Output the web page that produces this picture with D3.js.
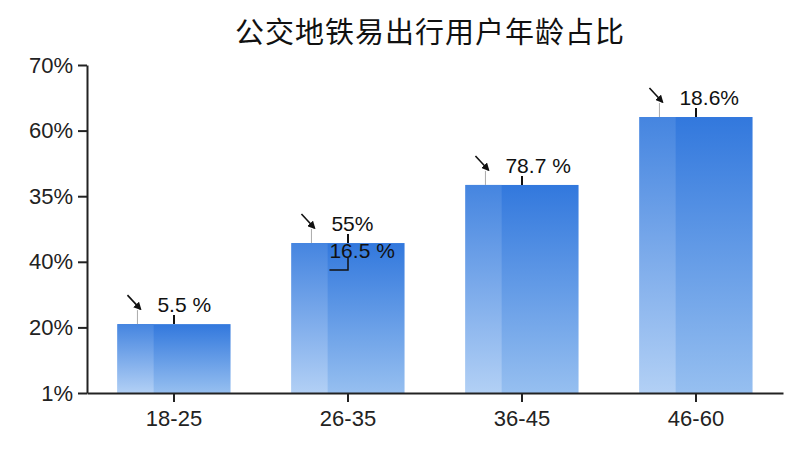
<!DOCTYPE html>
<html><head><meta charset="utf-8">
<script src="https://cdn.jsdelivr.net/npm/d3@7"></script>
<style>
html,body{margin:0;padding:0;background:#fff;}
svg{display:block;}
</style></head>
<body>
<svg id="chart" width="800" height="450"></svg>
<script>
const title = "公交地铁易出行用户年龄占比";
const categories = ["18-25", "26-35", "36-45", "46-60"];
const values = [14.7, 32.0, 44.4, 58.9];
const valueLabels = ["5.5 %", "55%", "78.7 %", "18.6%"];
const yTickValues = [0, 14, 28, 42, 56, 70];
const yTickLabels = ["1%", "20%", "40%", "35%", "60%", "70%"];
const extraCategories = ["26-35"];
const extraLabels = ["16.5 %"];

const svg = d3.select("#chart");
const latin = "'Liberation Sans', Arial, sans-serif";

const x = d3.scaleBand().domain(categories).range([87, 783]).paddingInner(0.35).paddingOuter(0.175);
const y = d3.scaleLinear().domain([0, 70]).range([393, 65]);

const defs = svg.append("defs");
const gMain = defs.append("linearGradient").attr("id", "gMain").attr("x1", 0).attr("y1", 0).attr("x2", 0).attr("y2", 1);
gMain.append("stop").attr("offset", "0%").attr("stop-color", "#3278dd");
gMain.append("stop").attr("offset", "100%").attr("stop-color", "#96bff0");
const gLeft = defs.append("linearGradient").attr("id", "gLeft").attr("x1", 0).attr("y1", 0).attr("x2", 0).attr("y2", 1);
gLeft.append("stop").attr("offset", "0%").attr("stop-color", "#4585e0");
gLeft.append("stop").attr("offset", "100%").attr("stop-color", "#b2d0f5");
defs.append("marker").attr("id", "arr").attr("viewBox", "0 0 10 10").attr("refX", 8).attr("refY", 5)
  .attr("markerWidth", 5).attr("markerHeight", 5).attr("orient", "auto")
  .append("path").attr("d", "M0,0 L10,5 L0,10 Z").attr("fill", "#111");

// title
svg.append("text").attr("x", 430).attr("y", 43).attr("text-anchor", "middle")
  .attr("font-family", "'Noto Sans CJK SC', sans-serif").attr("font-size", 29).attr("font-weight", 400)
  .attr("letter-spacing", 1).attr("fill", "#111").text(title);

// bars
const bars = svg.append("g");
const data = categories.map((c, i) => ({c, v: values[i], label: valueLabels[i]}));
bars.selectAll("rect.main").data(data).join("rect").attr("class", "main")
  .attr("x", d => x(d.c)).attr("y", d => y(d.v))
  .attr("width", x.bandwidth()).attr("height", d => y(0) - y(d.v)).attr("fill", "url(#gMain)");
bars.selectAll("rect.left").data(data).join("rect").attr("class", "left")
  .attr("x", d => x(d.c)).attr("y", d => y(d.v))
  .attr("width", x.bandwidth() * 0.32).attr("height", d => y(0) - y(d.v)).attr("fill", "url(#gLeft)");

// axes
const yAxis = d3.axisLeft(y).tickValues(yTickValues).tickFormat((d, i) => yTickLabels[i]).tickSize(9).tickSizeOuter(0);
const gy = svg.append("g").attr("transform", "translate(87,0)").call(yAxis);
gy.select(".domain").attr("stroke", "#222").attr("stroke-width", 2);
gy.selectAll(".tick line").attr("stroke", "#222").attr("stroke-width", 2);
gy.selectAll(".tick text").attr("font-family", latin).attr("font-size", 22).attr("fill", "#222").attr("x", -14);

const xAxis = d3.axisBottom(x).tickSize(9).tickSizeOuter(0);
const gx = svg.append("g").attr("transform", "translate(0,393)").call(xAxis);
gx.select(".domain").attr("stroke", "#222").attr("stroke-width", 2);
gx.selectAll(".tick line").attr("stroke", "#222").attr("stroke-width", 2);
gx.selectAll(".tick text").attr("font-family", latin).attr("font-size", 22).attr("fill", "#222").attr("y", 17);

// annotations
const ann = svg.append("g");
data.forEach(d => {
  const L = x(d.c), T = y(d.v), C = L + x.bandwidth() / 2;
  ann.append("line").attr("x1", L + 10).attr("y1", T - 29).attr("x2", L + 23).attr("y2", T - 15)
    .attr("stroke", "#111").attr("stroke-width", 1.6).attr("marker-end", "url(#arr)");
  ann.append("line").attr("x1", L + 20).attr("y1", T - 14).attr("x2", L + 20).attr("y2", T)
    .attr("stroke", "#aaa").attr("stroke-width", 1);
  ann.append("line").attr("x1", C).attr("y1", T - 9).attr("x2", C).attr("y2", T)
    .attr("stroke", "#111").attr("stroke-width", 2);
  ann.append("text").attr("x", L + 40).attr("y", T - 12).attr("font-family", latin).attr("font-size", 21)
    .attr("fill", "#111").text(d.label);
});
extraCategories.forEach((c, i) => {
  const v = values[categories.indexOf(c)];
  const L = x(c), T = y(v), C = L + x.bandwidth() / 2;
  ann.append("text").attr("x", L + 38).attr("y", T + 15).attr("font-family", latin).attr("font-size", 21)
    .attr("fill", "#111").text(extraLabels[i]);
  ann.append("path").attr("d", `M${L + 38},${T + 27} H${C} V${T + 15}`)
    .attr("fill", "none").attr("stroke", "#111").attr("stroke-width", 1.5);
});
</script>
</body></html>
